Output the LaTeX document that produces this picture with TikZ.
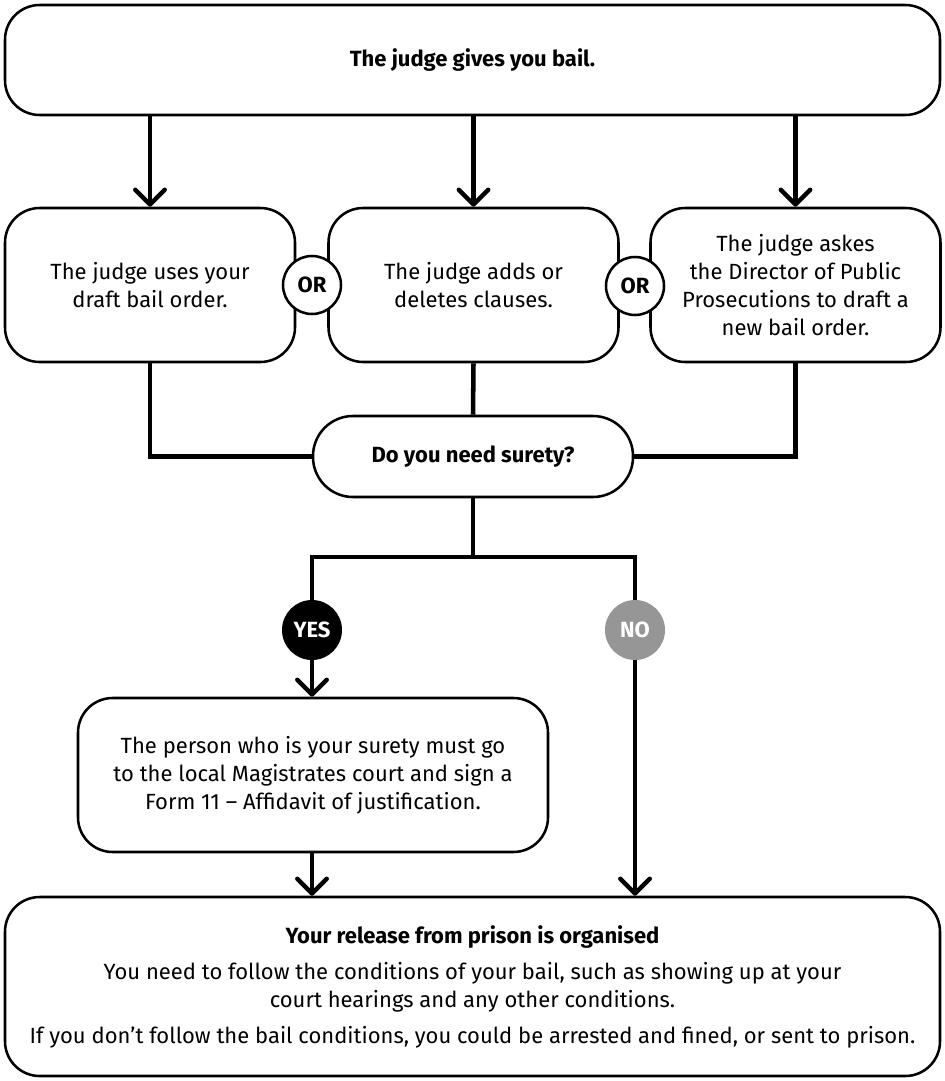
\documentclass[tikz,border=0pt]{standalone}
\usepackage{fontspec}
\setmainfont{Fira Sans}
\usetikzlibrary{arrows.meta}
\definecolor{nogrey}{RGB}{150,150,150}

\begin{document}
\begin{tikzpicture}[x=0.75pt,y=-0.75pt,
  txt/.style={font=\fontsize{16.5}{21}\selectfont},
  box/.style={txt,draw,line width=1.9pt,rounded corners=26pt,align=center,inner sep=0pt},
  conn/.style={line width=3.4pt},
  arr/.style={conn,-{Straight Barb[length=11pt,width=22pt,round]}},
  dot/.style={circle,inner sep=0pt,minimum size=45pt,font=\fontsize{16.5}{21}\selectfont\bfseries}]
\useasboundingbox (0,0) rectangle (945,1081);
\node[box,minimum width=701.25pt,minimum height=82.5pt] (top) at (472.5,60) {\bfseries The judge gives you bail.};
\node[box,minimum width=217.5pt,minimum height=115.5pt] (left) at (150,285) {The judge uses your\\draft bail order.};
\node[box,minimum width=217.5pt,minimum height=115.5pt] (mid) at (473.5,285) {The judge adds or\\deletes clauses.};
\node[box,minimum width=217.5pt,minimum height=115.5pt] (right) at (795.5,285) {The judge askes\\the Director of Public\\Prosecutions to draft a\\new bail order.};
\node[dot,draw,fill=white,line width=1.9pt,minimum size=43.5pt] (or1) at (312,285) {OR};
\node[dot,draw,fill=white,line width=1.9pt,minimum size=43.5pt] (or2) at (635,286) {OR};
\node[box,rounded corners=30pt,minimum width=240pt,minimum height=60.75pt] (surety) at (473,456.5) {\bfseries Do you need surety?};
\node[dot,fill=black,text=white] (yes) at (312,630) {YES};
\node[dot,fill=nogrey,text=white] (no) at (635,630) {NO};
\node[box,minimum width=352.5pt,minimum height=115.5pt] (person) at (313,775) {The person who is your surety must go\\to the local Magistrates court and sign a\\Form 11 -- Affidavit of justification.};
\node[box,minimum width=701.25pt,minimum height=134.25pt] (bottom) at (472.5,986.5) {\textbf{Your release from prison is organised}\\[6pt]
  You need to follow the conditions of your bail, such as showing up at your\\
  court hearings and any other conditions.\\[6pt]
  If you don’t follow the bail conditions, you could be arrested and fined, or sent to prison.};
\coordinate (split) at (473,557);
\draw[arr] (left.north |- top.south) -- (left.north);
\draw[arr] (mid.north |- top.south) -- (mid.north);
\draw[arr] (right.north |- top.south) -- (right.north);
\draw[conn] (left.south) |- (surety.west);
\draw[conn] (mid.south) -- (surety.north);
\draw[conn] (right.south) |- (surety.east);
\draw[conn] (surety.south) -- (split);
\draw[conn] (split) -| (yes.north);
\draw[conn] (split) -| (no.north);
\draw[arr] (yes.south) -- (person.north -| yes.south);
\draw[arr] (no.south) -- (bottom.north -| no.south);
\draw[arr] (person.south -| yes.south) -- (bottom.north -| yes.south);
\end{tikzpicture}
\end{document}
